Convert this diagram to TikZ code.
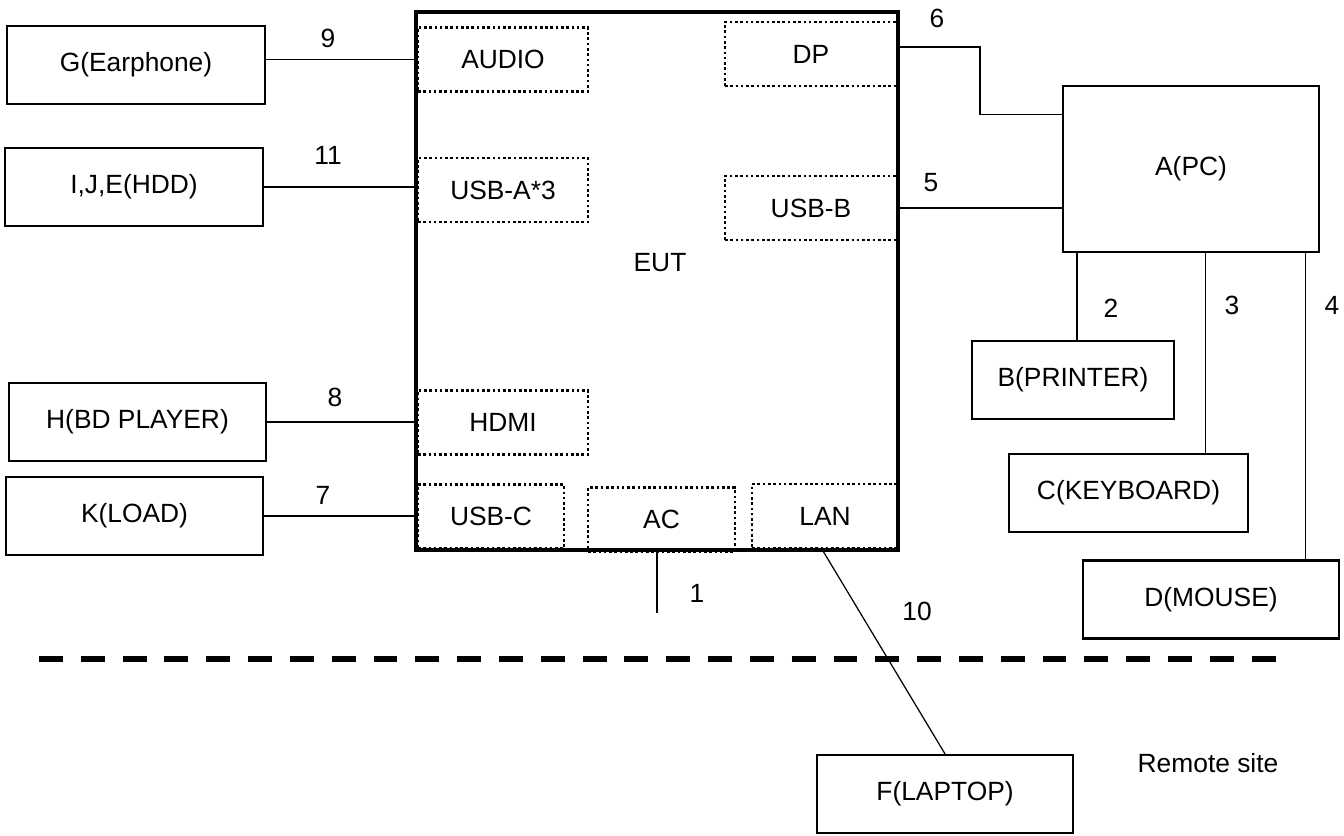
\documentclass[tikz,border=0pt]{standalone}
\usepackage{fontspec}
\setmainfont{Liberation Sans}
\usepackage{tikz}
\usetikzlibrary{calc}
\tikzset{
	devbox/.style={draw, line width=1.3pt, minimum height=1.56cm, inner sep=0pt, font=\fontsize{15}{18}\selectfont, minimum width=#1},
	portbox/.style={draw, line width=1.5pt, dash pattern=on 1.5pt off 1.5pt, inner sep=0pt, font=\fontsize{15}{18}\selectfont, minimum height=1.28cm, minimum width=#1},
	eutbox/.style={draw, line width=1.9pt, minimum width=9.64cm, minimum height=10.76cm, inner sep=0pt},
	cable/.style={line width=0.7pt},
	numlbl/.style={font=\fontsize{15}{18}\selectfont, inner sep=0pt},
	sepline/.style={line width=3.4pt, dash pattern=on 13.6pt off 10.2pt},
}
\begin{document}
\begin{tikzpicture}[x=0.02cm, y=-0.02cm]
	\useasboundingbox (0,0) rectangle (1344,835);
	% EUT and its ports
	\node[eutbox] (eut) at (657,281) {};
	\node[numlbl] (euttxt) at (660,263) {EUT};
	\node[portbox=3.4cm] (audio) at (503,59.5) {AUDIO};
	\node[portbox=3.4cm] (usba) at (503,190) {USB-A*3};
	\node[portbox=3.44cm] (dp) at (811,54) {DP};
	\node[portbox=3.44cm] (usbb) at (811,208) {USB-B};
	\node[portbox=3.4cm] (hdmi) at (503,422.5) {HDMI};
	\node[portbox=2.92cm] (usbc) at (491,516.5) {USB-C};
	\node[portbox=2.94cm] (ac) at (661.5,519.5) {AC};
	\node[portbox=2.92cm] (lan) at (825,516) {LAN};
	% devices
	\node[devbox=5.16cm] (g) at (136,65) {G(Earphone)};
	\node[devbox=5.16cm] (ije) at (134,187) {I,J,E(HDD)};
	\node[devbox=5.14cm] (h) at (137.5,422) {H(BD PLAYER)};
	\node[devbox=5.14cm] (k) at (134.5,516) {K(LOAD)};
	\node[devbox=5.12cm, minimum height=3.32cm] (pc) at (1191,169) {A(PC)};
	\node[devbox=4.04cm] (b) at (1073,380) {B(PRINTER)};
	\node[devbox=4.78cm] (c) at (1128.5,493) {C(KEYBOARD)};
	\node[devbox=5.12cm] (d) at (1211,599.5) {D(MOUSE)};
	\node[devbox=5.12cm] (f) at (945,794) {F(LAPTOP)};
	\node[numlbl] (remote) at (1208,763) {Remote site};
	% cables
	\draw[cable] (audio.west) -- (audio.west -| g.east);
	\draw[cable] (ije.east) -- (ije.east -| eut.west);
	\draw[cable] (h.east) -- (h.east -| eut.west);
	\draw[cable] (k.east) -- (k.east -| eut.west);
	\draw[cable] ([yshift=0.14cm]dp.east) -| ($(dp.east)!0.5!(pc.west)$) |- ([yshift=-0.6cm]pc.north west);
	\draw[cable] (usbb.east) -- (usbb.east -| pc.west);
	\draw[cable] ([xshift=0.08cm]b.north) -- ([xshift=0.08cm]b.north |- pc.south);
	\draw[cable] ([xshift=-0.88cm]c.north east) -- ([xshift=-0.88cm]c.north east |- pc.south);
	\draw[cable] ([xshift=-0.7cm]d.north east) -- ([xshift=-0.7cm]d.north east |- pc.south);
	\coordinate (acplug) at (657,613);
	\draw[cable] (acplug |- eut.south) -- (acplug);
	\draw[cable] ([xshift=-0.06cm]lan.south) -- (f.north);
	% cable numbers
	\node[numlbl] (n9) at (328,38) {9};
	\node[numlbl] (n11) at (328,155) {11};
	\node[numlbl] (n8) at (335,397) {8};
	\node[numlbl] (n7) at (323,495) {7};
	\node[numlbl] (n6) at (937,18) {6};
	\node[numlbl] (n5) at (931,183) {5};
	\node[numlbl] (n2) at (1111,308) {2};
	\node[numlbl] (n3) at (1232,305) {3};
	\node[numlbl] (n4) at (1332,305) {4};
	\node[numlbl] (n1) at (697,593) {1};
	\node[numlbl] (n10) at (917,611) {10};
	% remote site border
	\draw[sepline] (39,659) -- (1282,659);
\end{tikzpicture}
\end{document}
